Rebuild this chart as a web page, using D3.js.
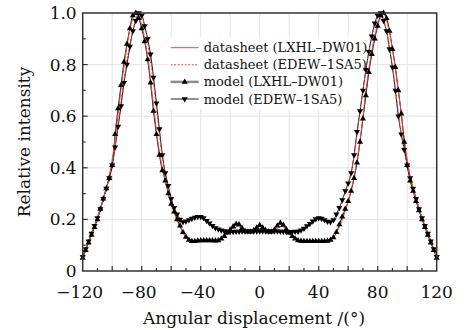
<!DOCTYPE html>
<html>
<head>
<meta charset="utf-8">
<script src="https://cdnjs.cloudflare.com/ajax/libs/d3/7.8.5/d3.min.js"></script>
<style>
  body { margin: 0; background: #fff; }
  svg { display: block; }
  text { font-family: "DejaVu Serif", serif; fill: #111; }
</style>
</head>
<body>
<div id="chart"></div>
<script>
// model curves, one value every 2 degrees from -120 to 120
var model_angles = d3.range(-120, 121, 2);
var model_lxhl = [
    0.05, 0.08, 0.11, 0.14, 0.17, 0.20, 0.24, 0.28, 0.32, 0.36,
    0.41, 0.53, 0.63, 0.72, 0.81, 0.88, 0.94, 0.99, 1.00, 0.98,
    0.94, 0.89, 0.82, 0.73, 0.62, 0.53, 0.45, 0.39, 0.35, 0.30,
    0.26, 0.23, 0.20, 0.175, 0.15, 0.132, 0.12, 0.115, 0.115, 0.117,
    0.118, 0.118, 0.118, 0.118, 0.118, 0.117, 0.118, 0.125, 0.135, 0.148,
    0.16, 0.172, 0.182, 0.18, 0.166, 0.155, 0.152, 0.152, 0.158, 0.168,
    0.177,
    0.168, 0.158, 0.152, 0.152, 0.16, 0.175, 0.186, 0.178, 0.162, 0.148,
    0.135, 0.125, 0.118, 0.116, 0.115, 0.115, 0.115, 0.115, 0.115, 0.115,
    0.115, 0.115, 0.116, 0.12, 0.13, 0.15, 0.18, 0.21, 0.24, 0.27,
    0.31, 0.36, 0.42, 0.50, 0.59, 0.68, 0.77, 0.84, 0.90, 0.95,
    0.99, 1.00, 0.98, 0.93, 0.86, 0.79, 0.70, 0.61, 0.50, 0.41,
    0.35, 0.31, 0.27, 0.235, 0.20, 0.17, 0.14, 0.11, 0.08, 0.05
];
var model_edew = [
    0.055, 0.085, 0.115, 0.145, 0.175, 0.205, 0.24, 0.28, 0.32, 0.36,
    0.41, 0.48, 0.56, 0.64, 0.73, 0.80, 0.87, 0.93, 0.97, 1.00,
    0.99, 0.95, 0.90, 0.84, 0.75, 0.65, 0.55, 0.45, 0.38, 0.33,
    0.28, 0.245, 0.22, 0.20, 0.19, 0.193, 0.198, 0.203, 0.207, 0.21,
    0.21, 0.205, 0.195, 0.185, 0.175, 0.167, 0.162, 0.158, 0.155, 0.153,
    0.152, 0.152, 0.153, 0.153, 0.154, 0.154, 0.154, 0.154, 0.154, 0.154,
    0.154,
    0.154, 0.154, 0.154, 0.154, 0.154, 0.154, 0.153, 0.153, 0.152, 0.152,
    0.152, 0.153, 0.153, 0.158, 0.165, 0.174, 0.183, 0.193, 0.202, 0.205,
    0.203, 0.198, 0.192, 0.19, 0.198, 0.22, 0.245, 0.275, 0.31, 0.34,
    0.38, 0.45, 0.54, 0.62, 0.70, 0.78, 0.85, 0.91, 0.96, 0.99,
    1.00, 0.97, 0.93, 0.86, 0.79, 0.70, 0.60, 0.53, 0.47, 0.41,
    0.36, 0.32, 0.28, 0.24, 0.205, 0.175, 0.145, 0.115, 0.085, 0.055
];

// datasheet curves, one value every 3 degrees from -120 to 120
var sheet_angles = d3.range(-120, 121, 3);
var sheet_lxhl = [
    0.055, 0.10, 0.145, 0.19, 0.24, 0.30, 0.37, 0.47, 0.61, 0.75,
    0.87, 0.96, 0.995, 0.97, 0.90, 0.79, 0.64, 0.50, 0.40, 0.33,
    0.265, 0.21, 0.17, 0.14, 0.125, 0.118, 0.118, 0.12, 0.12, 0.12,
    0.12, 0.124, 0.135, 0.152, 0.165, 0.172, 0.165, 0.157, 0.155, 0.16,
    0.165,
    0.16, 0.155, 0.157, 0.165, 0.172, 0.163, 0.148, 0.132, 0.12, 0.117,
    0.117, 0.117, 0.117, 0.117, 0.118, 0.123, 0.14, 0.17, 0.215, 0.27,
    0.34, 0.43, 0.55, 0.70, 0.82, 0.91, 0.97, 0.995, 0.95, 0.86,
    0.74, 0.61, 0.47, 0.37, 0.30, 0.24, 0.19, 0.145, 0.10, 0.055
];
var sheet_edew = [
    0.06, 0.10, 0.148, 0.195, 0.245, 0.30, 0.365, 0.45, 0.57, 0.70,
    0.82, 0.91, 0.975, 1.00, 0.95, 0.85, 0.73, 0.58, 0.44, 0.35,
    0.28, 0.235, 0.205, 0.193, 0.198, 0.205, 0.21, 0.208, 0.196, 0.18,
    0.167, 0.16, 0.156, 0.154, 0.153, 0.153, 0.153, 0.153, 0.153, 0.153,
    0.153,
    0.153, 0.153, 0.153, 0.153, 0.153, 0.153, 0.154, 0.156, 0.16, 0.167,
    0.18, 0.195, 0.205, 0.204, 0.196, 0.19, 0.205, 0.24, 0.29, 0.34,
    0.41, 0.53, 0.66, 0.78, 0.88, 0.95, 0.995, 0.97, 0.90, 0.79,
    0.66, 0.53, 0.44, 0.36, 0.30, 0.245, 0.195, 0.148, 0.10, 0.06
];

var x_ticks = [-120, -80, -40, 0, 40, 80, 120];
var y_ticks = [0, 0.2, 0.4, 0.6, 0.8, 1.0];
var legend_labels = [
    'datasheet (LXHL\u2013DW01)',
    'datasheet (EDEW\u20131SA5)',
    'model (LXHL\u2013DW01)',
    'model (EDEW\u20131SA5)'
];

var chart_width  = 466;
var chart_height = 330;
var margin = {top: 13, right: 29.3, bottom: 59, left: 82.7};
var plot_w = chart_width - margin.left - margin.right;
var plot_h = chart_height - margin.top - margin.bottom;

var svg = d3.select('#chart')
    .append('svg')
    .attr('width', chart_width)
    .attr('height', chart_height);

var x_scale = d3.scaleLinear().domain([-120, 120]).range([0, plot_w]);
var y_scale = d3.scaleLinear().domain([0, 1]).range([plot_h, 0]);

var g = svg.append('g')
    .attr('transform', 'translate(' + margin.left + ',' + margin.top + ')');

// grid
g.append('g')
    .selectAll('line')
    .data(d3.range(-100, 101, 20))
    .enter()
    .append('line')
    .attr('x1', function(d){ return x_scale(d); })
    .attr('x2', function(d){ return x_scale(d); })
    .attr('y1', 0)
    .attr('y2', plot_h)
    .attr('stroke', '#e4e4e4')
    .attr('stroke-width', 1);

g.append('g')
    .selectAll('line')
    .data([0.2, 0.4, 0.6, 0.8])
    .enter()
    .append('line')
    .attr('x1', 0)
    .attr('x2', plot_w)
    .attr('y1', function(d){ return y_scale(d); })
    .attr('y2', function(d){ return y_scale(d); })
    .attr('stroke', '#e4e4e4')
    .attr('stroke-width', 1);

// legend box (white, covers grid)
var legend_x = 85, legend_y = 24;
g.append('rect')
    .attr('x', legend_x)
    .attr('y', legend_y)
    .attr('width', 205)
    .attr('height', 72)
    .attr('fill', '#fff');

// curves
var line = d3.line()
    .x(function(d){ return x_scale(d[0]); })
    .y(function(d){ return y_scale(d[1]); })
    .curve(d3.curveCatmullRom);

function pairs(xs, ys){
    return xs.map(function(a, i){ return [a, ys[i]]; });
}

var red = '#e8473c';

g.append('path')
    .datum(pairs(model_angles, model_lxhl))
    .attr('d', line)
    .attr('fill', 'none')
    .attr('stroke', '#111')
    .attr('stroke-width', 1);

g.append('path')
    .datum(pairs(model_angles, model_edew))
    .attr('d', line)
    .attr('fill', 'none')
    .attr('stroke', '#111')
    .attr('stroke-width', 1);

g.append('path')
    .datum(pairs(sheet_angles, sheet_lxhl))
    .attr('d', line)
    .attr('fill', 'none')
    .attr('stroke', red)
    .attr('stroke-width', 1);

g.append('path')
    .datum(pairs(sheet_angles, sheet_edew))
    .attr('d', line)
    .attr('fill', 'none')
    .attr('stroke', red)
    .attr('stroke-width', 1)
    .attr('stroke-dasharray', '2,1.5');

var tri = d3.symbol().type(d3.symbolTriangle).size(16);

g.append('g')
    .selectAll('path')
    .data(pairs(model_angles, model_lxhl))
    .enter()
    .append('path')
    .attr('d', tri)
    .attr('transform', function(d){
        return 'translate(' + x_scale(d[0]) + ',' + y_scale(d[1]) + ')';
    })
    .attr('fill', '#000');

g.append('g')
    .selectAll('path')
    .data(pairs(model_angles, model_edew))
    .enter()
    .append('path')
    .attr('d', tri)
    .attr('transform', function(d){
        return 'translate(' + x_scale(d[0]) + ',' + y_scale(d[1]) + ') rotate(180)';
    })
    .attr('fill', '#000');

// legend entries
var rows = g.append('g')
    .selectAll('g')
    .data(legend_labels)
    .enter()
    .append('g')
    .attr('transform', function(d, i){
        return 'translate(' + (legend_x + 3) + ',' + (legend_y + 10.7 + i * 17.1) + ')';
    });

rows.append('line')
    .attr('x1', 0)
    .attr('x2', 28)
    .attr('y1', 0)
    .attr('y2', 0)
    .attr('stroke', function(d, i){ return i < 2 ? red : (i == 2 ? '#8a8a8a' : '#222'); })
    .attr('stroke-width', function(d, i){ return i == 2 ? 2.5 : 1; })
    .attr('stroke-dasharray', function(d, i){ return i == 1 ? '2,1.5' : null; });

rows.filter(function(d, i){ return i >= 2; })
    .append('path')
    .attr('d', tri)
    .attr('transform', function(d, i){
        return 'translate(14,0)' + (i == 1 ? ' rotate(180)' : '');
    })
    .attr('fill', '#000');

rows.append('text')
    .text(function(d){ return d; })
    .attr('x', 33)
    .attr('y', 4.5)
    .attr('font-size', 13);

// frame
g.append('rect')
    .attr('x', 0)
    .attr('y', 0)
    .attr('width', plot_w)
    .attr('height', plot_h)
    .attr('fill', 'none')
    .attr('stroke', '#333')
    .attr('stroke-width', 1.5);

// ticks (inward)
g.append('g')
    .selectAll('line')
    .data(d3.range(-110, 111, 10))
    .enter()
    .append('line')
    .attr('x1', function(d){ return x_scale(d); })
    .attr('x2', function(d){ return x_scale(d); })
    .attr('y1', plot_h)
    .attr('y2', function(d){ return plot_h - (d % 20 == 0 ? 5 : 3); })
    .attr('stroke', '#333')
    .attr('stroke-width', 1.2);

g.append('g')
    .selectAll('line')
    .data(d3.range(1, 10))
    .enter()
    .append('line')
    .attr('x1', 0)
    .attr('x2', function(d){ return d % 2 == 0 ? 5 : 3; })
    .attr('y1', function(d){ return y_scale(d / 10); })
    .attr('y2', function(d){ return y_scale(d / 10); })
    .attr('stroke', '#333')
    .attr('stroke-width', 1.2);

// tick labels
function fmt_x(d){ return d < 0 ? '\u2212' + (-d) : String(d); }
function fmt_y(d){ return d == 0 ? '0' : d.toFixed(1); }

g.append('g')
    .selectAll('text')
    .data(x_ticks)
    .enter()
    .append('text')
    .text(fmt_x)
    .attr('x', function(d){ return x_scale(d) + (d < 0 ? -3 : 0); })
    .attr('y', plot_h + 27)
    .attr('text-anchor', 'middle')
    .attr('font-size', 17);

g.append('g')
    .selectAll('text')
    .data(y_ticks)
    .enter()
    .append('text')
    .text(fmt_y)
    .attr('x', -6)
    .attr('y', function(d){ return y_scale(d) + 6; })
    .attr('text-anchor', 'end')
    .attr('font-size', 17);

// axis titles
svg.append('text')
    .text('Angular displacement /(\u00b0)')
    .attr('x', 254)
    .attr('y', 324)
    .attr('text-anchor', 'middle')
    .attr('font-size', 17);

svg.append('text')
    .text('Relative intensity')
    .attr('transform', 'translate(30,142) rotate(-90)')
    .attr('text-anchor', 'middle')
    .attr('font-size', 17);
</script>
</body>
</html>
